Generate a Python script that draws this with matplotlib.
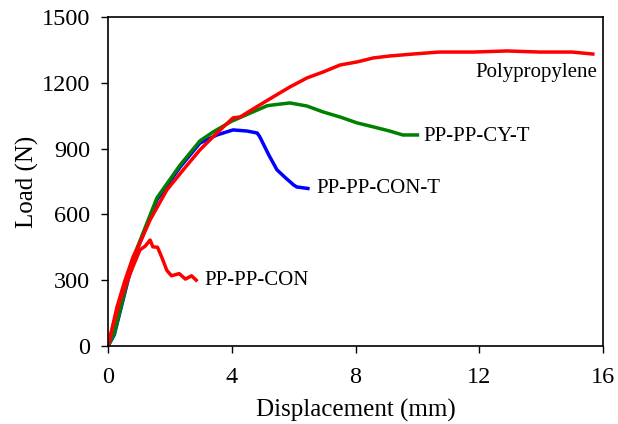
import matplotlib.pyplot as plt

plt.rcParams['font.family'] = ['Liberation Serif', 'DejaVu Serif']

# Polypropylene
pp_x = [0, 0.1, 0.29, 0.55, 0.81, 1.03, 1.36, 1.9, 2.43, 2.97, 3.52, 4.04, 4.27,
        4.8, 5.33, 5.88, 6.43, 6.95, 7.5, 8.05, 8.57, 9.1, 9.86, 10.7, 11.8,
        12.9, 13.96, 15.0, 15.67]
pp_y = [0, 60, 178, 300, 406, 470, 575, 711, 803, 894, 971, 1040, 1044,
        1090, 1135, 1181, 1222, 1249, 1281, 1295, 1313, 1322, 1331, 1340, 1340,
        1345, 1340, 1340, 1331]

# PP-PP-CON
con_x = [0, 0.1, 0.39, 0.8, 1.03, 1.2, 1.36, 1.45, 1.6, 1.75, 1.9, 2.05, 2.3,
         2.5, 2.7, 2.85]
con_y = [0, 60, 210, 360, 438, 455, 483, 452, 450, 400, 345, 320, 330,
         305, 320, 300]

# PP-PP-CON-T
cont_x = [0, 0.2, 0.81, 1.58, 2.33, 2.97, 3.52, 4.04, 4.49, 4.82, 4.9, 5.2,
          5.46, 5.75, 6.0, 6.1, 6.46]
cont_y = [0, 50, 392, 666, 816, 925, 962, 985, 980, 971, 955, 870,
          803, 765, 734, 725, 718]

# PP-PP-CY-T
cyt_x = [0, 0.2, 0.81, 1.58, 2.33, 2.97, 3.4, 4.0, 4.6, 5.14, 5.33, 5.88, 6.43,
         6.95, 7.5, 8.05, 8.57, 9.1, 9.53, 10.0]
cyt_y = [0, 55, 400, 675, 825, 935, 976, 1025, 1062, 1095, 1099, 1108, 1094,
         1067, 1044, 1017, 999, 980, 962, 962]

fig = plt.figure(figsize=(6.18, 4.24), dpi=100)
ax = fig.add_axes([0.1748, 0.184, 0.801, 0.776])

ax.plot(cont_x, cont_y, color='#0000FF', lw=2.5)
ax.plot(cyt_x, cyt_y, color='#008000', lw=2.5)
ax.plot(con_x, con_y, color='#FF0000', lw=2.5)
ax.plot(pp_x, pp_y, color='#FF0000', lw=2.5)

ax.text(15.8, 1245, 'Polypropylene', fontsize=15, ha='right', va='center')
ax.text(10.18, 957, 'PP-PP-CY-T', fontsize=15, ha='left', va='center')
ax.text(6.72, 720, 'PP-PP-CON-T', fontsize=15, ha='left', va='center')
ax.text(3.13, 300, 'PP-PP-CON', fontsize=15, ha='left', va='center')

ax.set_xlim(0, 16)
ax.set_ylim(0, 1500)
ax.set_xticks([0, 4, 8, 12, 16])
ax.set_yticks([0, 300, 600, 900, 1200, 1500])
ax.tick_params(labelsize=17.5, direction='out', length=5, width=1)
ax.tick_params(axis='x', pad=10)
ax.tick_params(axis='y', pad=8)
ax.set_xlabel('Displacement (mm)', fontsize=18, labelpad=8)
ax.set_ylabel('Load (N)', fontsize=18, labelpad=2)
for s in ax.spines.values():
    s.set_linewidth(1.2)

fig.savefig('out.png', dpi=100)
